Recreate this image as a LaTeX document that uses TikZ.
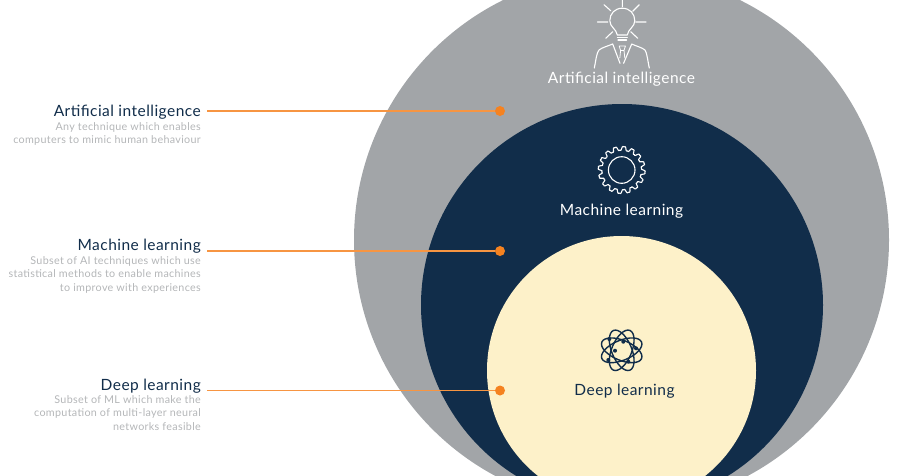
\documentclass[tikz,border=0pt]{standalone}
\usepackage{fontspec}
\setmainfont{Lato}[LetterSpace=3]
\definecolor{cgrey}{HTML}{A2A5A8}
\definecolor{cnavy}{HTML}{112D4A}
\definecolor{ccream}{HTML}{FDF1C9}
\definecolor{corange}{HTML}{F58220}
\definecolor{ctext}{HTML}{B4B6B8}
\tikzset{
	headlabel/.style={anchor=east, inner sep=0pt, text=cnavy, font=\fontsize{15.5}{15.5}\selectfont},
	desclabel/.style={anchor=north east, inner sep=0pt, align=right, text=ctext, font=\fontsize{10.75}{13.6}\selectfont},
	inlabel/.style={inner sep=0pt, font=\fontsize{15.5}{15.5}\selectfont},
	dot/.style={circle, fill=corange, inner sep=0pt, minimum size=10pt},
	leader/.style={corange!85!white, line width=1.4pt},
	iconline/.style={white, line width=1.1pt, line cap=round, line join=round}
}
\begin{document}
\begin{tikzpicture}[x=1pt, y=-1pt, declare function={gearr(\t)=21.6+2.2*(1.75*sin(16*\t)-sin(16*\t)*sin(16*\t)*sin(16*\t));}]
	\useasboundingbox (0,0) rectangle (905,475);
	\begin{scope}
		\clip (0,0) rectangle (905,475);
		\fill[cgrey] (621.5,240) circle (267.5);
		\fill[cnavy] (622,305) circle (201);
		\fill[ccream] (621.5,370.5) circle (134.5);
	\end{scope}
	% labels on the left
	\node[headlabel] (aihead) at (201,112.5) {Artificial intelligence};
	\node[headlabel] (mlhead) at (201,246.5) {Machine learning};
	\node[headlabel] (dlhead) at (201,386.5) {Deep learning};
	\node[desclabel] (aidesc) at (201,122) {Any technique which enables\hspace{3pt}\\computers to mimic human behaviour};
	\node[desclabel] (mldesc) at (201,256) {Subset of AI techniques which use\hspace{3pt}\\statistical methods to enable machines\hspace{3pt}\\to improve with experiences};
	\node[desclabel] (dldesc) at (201,395) {Subset of ML which make the\hspace{3pt}\\computation of multi-layer neural\hspace{3pt}\\networks feasible};
	% leaders
	\node[dot] (aidot) at (500,111) {};
	\node[dot] (mldot) at (500,251) {};
	\node[dot] (dldot) at (500,390.5) {};
	\path (207,111) coordinate (aistart) (207,251) coordinate (mlstart) (207,390.5) coordinate (dlstart);
	\foreach \p in {ai,ml,dl}
	\draw[leader] (\p start)--(\p dot);
	% labels in the circles
	\node[inlabel, text=white] (aitext) at (621.5,79.5) {Artificial intelligence};
	\node[inlabel, text=white] (mltext) at (621.5,211.5) {Machine learning};
	\node[inlabel, text=cnavy] (dltext) at (624.5,391.5) {Deep learning};
	% bulb and man
	\draw[iconline] (622.3,0)--(622.3,6.7) (604,4.7)--(610.7,10.7) (639.3,4.7)--(632.7,11.3)
		(597.3,22)--(607.7,22) (635.7,22)--(646,22) (605.7,38.3)--(612.7,31.7) (637.7,38.3)--(630.7,31.7);
	\draw[iconline] (617.3,35) .. controls (616.5,29) and (609.8,27) .. (609.8,20.7)
		.. controls (609.8,13.5) and (615,8.2) .. (622.3,8.2)
		.. controls (629.6,8.2) and (634.8,13.5) .. (634.8,20.7)
		.. controls (634.8,27) and (628,29) .. (627.3,35) -- cycle;
	\draw[iconline] (617.3,37.6)--(627.3,37.6) (618,40)--(626.6,40);
	\draw[iconline] (594.3,68) .. controls (596,60) and (596.5,53) .. (599,50) .. controls (602,47.5) and (608,46) .. (612.7,44) -- (620,63.3)
		(649.3,68) .. controls (647.6,60) and (647,53) .. (645,50) .. controls (642,47.5) and (636,46) .. (631.7,44) -- (623.6,63.3);
	\draw[iconline, line width=.8pt] (619.2,46)--(625.4,46)--(624,50.5)--(620.6,50.5)--cycle (620.6,50.5)--(619.8,58) (624,50.5)--(624.8,58);
	% gear
	\draw[iconline] (621.7,170) circle (13.3);
	\draw[iconline] plot[domain=0:360, samples=385, smooth] ({621.7+gearr(\x)*cos(\x)},{170+gearr(\x)*sin(\x)});
	% atom
	\foreach \a in {22.5,67.5,112.5,157.5}
	\draw[cnavy, line width=1.4pt] (621.7,350.3) ellipse[x radius=21.5, y radius=10, rotate=\a];
	\foreach \px/\py in {609.3/339,623.3/341.7,636/348.3,615/350.7,608.3/360,628.3/361.7}
	\fill[cnavy] (\px,\py) circle (2);
\end{tikzpicture}
\end{document}
